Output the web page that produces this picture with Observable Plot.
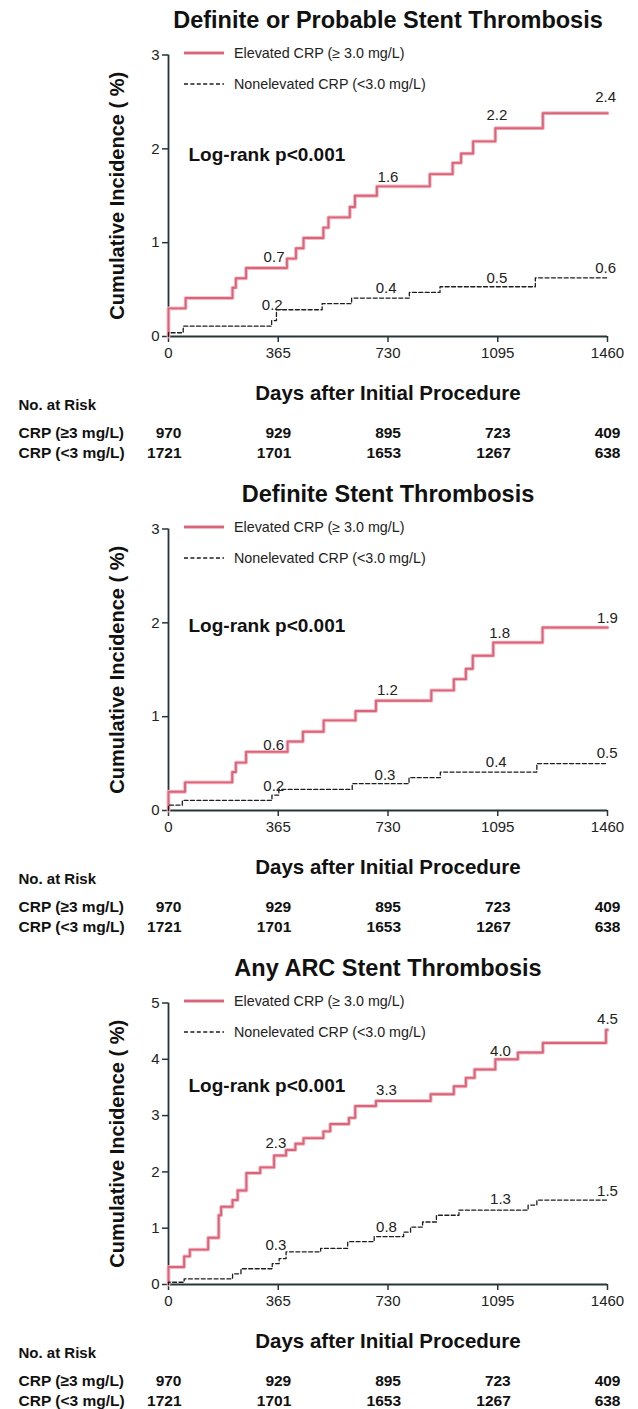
<!DOCTYPE html>
<html>
<head>
<meta charset="utf-8">
<script src="https://cdn.jsdelivr.net/npm/d3@7"></script>
<script src="https://cdn.jsdelivr.net/npm/@observablehq/plot@0.6"></script>
<style>
  html, body { margin: 0; padding: 0; background: #fff; overflow: hidden; }
  body { font-family: "Liberation Sans", Arial, sans-serif; width: 638px; height: 1409px; }
  .panel { position: relative; width: 638px; height: 474px; }
  .title { position: absolute; left: 0; top: 5px; width: 776px; text-align: center;
           font-weight: bold; font-size: 23.5px; color: #111; line-height: 30px; }
  .main { position: absolute; left: 0; top: 40px; }
  .table { position: absolute; left: 0; top: 395px; }
  .legend { position: absolute; left: 0; top: 0; }
</style>
</head>
<body>
<div id="chart"></div>
<script>
// ---------- data ----------
const titles = ["Definite or Probable Stent Thrombosis", "Definite Stent Thrombosis", "Any ARC Stent Thrombosis"];
const seriesNames = ["Elevated CRP (\u2265 3.0 mg/L)", "Nonelevated CRP (<3.0 mg/L)"];
const riskRows = ["CRP (\u22653 mg/L)", "CRP (<3 mg/L)"];
const xTicks = [0, 365, 730, 1095, 1460];
const yTicks1 = [0, 1, 2, 3];
const yTicks2 = [0, 1, 2, 3];
const yTicks3 = [0, 1, 2, 3, 4, 5];
const riskElevated = [970, 929, 895, 723, 409];
const riskNonelevated = [1721, 1701, 1653, 1267, 638];
const logRank = "Log-rank p<0.001";

// Panel 1: Definite or Probable
const p1ElevDays = [0, 0, 57, 213, 224, 258, 394, 424, 449, 515, 532, 603, 620, 693, 869, 945, 973, 1013, 1087, 1245, 1460];
const p1ElevVals = [0, 0.30, 0.41, 0.52, 0.62, 0.73, 0.83, 0.94, 1.05, 1.16, 1.27, 1.38, 1.50, 1.60, 1.73, 1.85, 1.95, 2.08, 2.22, 2.38, 2.38];
const p1NonDays = [0, 0, 49, 343, 359, 511, 609, 801, 903, 1220, 1460];
const p1NonVals = [0, 0.04, 0.11, 0.17, 0.285, 0.35, 0.41, 0.47, 0.53, 0.625, 0.625];
const p1LabText = ["0.7", "1.6", "2.2", "2.4", "0.2", "0.4", "0.5", "0.6"];
const p1LabDays = [351, 730, 1092, 1454, 345, 724, 1092, 1454];
const p1LabVals = [0.85, 1.70, 2.36, 2.55, 0.33, 0.51, 0.625, 0.73];

// Panel 2: Definite
const p2ElevDays = [0, 0, 55, 212, 224, 258, 396, 447, 516, 622, 690, 874, 949, 989, 1012, 1080, 1244, 1460];
const p2ElevVals = [0, 0.20, 0.30, 0.41, 0.51, 0.625, 0.735, 0.84, 0.96, 1.06, 1.17, 1.28, 1.40, 1.51, 1.65, 1.79, 1.95, 1.95];
const p2NonDays = [0, 0, 46, 344, 367, 611, 800, 904, 1225, 1460];
const p2NonVals = [0, 0.057, 0.107, 0.164, 0.225, 0.286, 0.35, 0.41, 0.50, 0.50];
const p2LabText = ["0.6", "1.2", "1.8", "1.9", "0.2", "0.3", "0.4", "0.5"];
const p2LabDays = [350, 728, 1101, 1460, 350, 720, 1090, 1459];
const p2LabVals = [0.70, 1.28, 1.886, 2.05, 0.26, 0.375, 0.51, 0.607];

// Panel 3: Any ARC
const p3ElevDays = [0, 0, 52, 71, 132, 167, 175, 213, 230, 259, 305, 351, 391, 422, 449, 515, 538, 600, 621, 690, 872, 949, 989, 1018, 1087, 1162, 1245, 1455, 1460];
const p3ElevVals = [0, 0.31, 0.50, 0.62, 0.83, 1.23, 1.38, 1.50, 1.67, 1.98, 2.08, 2.29, 2.39, 2.50, 2.60, 2.72, 2.85, 2.96, 3.17, 3.26, 3.38, 3.52, 3.67, 3.82, 4.00, 4.12, 4.29, 4.52, 4.52];
const p3NonDays = [0, 0, 52, 213, 241, 345, 368, 391, 506, 596, 684, 782, 805, 845, 891, 966, 1196, 1225, 1460];
const p3NonVals = [0, 0.04, 0.10, 0.19, 0.28, 0.37, 0.46, 0.58, 0.64, 0.76, 0.85, 0.93, 1.02, 1.11, 1.23, 1.32, 1.41, 1.50, 1.50];
const p3LabText = ["2.3", "3.3", "4.0", "4.5", "0.3", "0.8", "1.3", "1.5"];
const p3LabDays = [357, 725, 1104, 1460, 357, 725, 1104, 1460];
const p3LabVals = [2.51, 3.46, 4.15, 4.71, 0.70, 1.02, 1.51, 1.65];

// ---------- style ----------
const FONT = "Liberation Sans, Arial, Helvetica, sans-serif";
const AXIS = "#263636";
const RED = "#d9657b";
const GLOW = "#f4b7c2";
const BLACK = "#1e1e1e";

const panels = [
  {title: titles[0], yTicks: yTicks1, eD: p1ElevDays, eV: p1ElevVals, nD: p1NonDays, nV: p1NonVals, lT: p1LabText, lD: p1LabDays, lV: p1LabVals, lrDy: 100},
  {title: titles[1], yTicks: yTicks2, eD: p2ElevDays, eV: p2ElevVals, nD: p2NonDays, nV: p2NonVals, lT: p2LabText, lD: p2LabDays, lV: p2LabVals, lrDy: 97},
  {title: titles[2], yTicks: yTicks3, eD: p3ElevDays, eV: p3ElevVals, nD: p3NonDays, nV: p3NonVals, lT: p3LabText, lD: p3LabDays, lV: p3LabVals, lrDy: 83}
];

const root = document.getElementById("chart");
const ML = 168, MR = 31;

panels.forEach((p) => {
  const div = document.createElement("div");
  div.className = "panel";
  root.appendChild(div);

  const t = document.createElement("div");
  t.className = "title";
  t.textContent = p.title;
  div.appendChild(t);

  const elev = p.eD.map((d, i) => ({day: d, v: p.eV[i]}));
  const non = p.nD.map((d, i) => ({day: d, v: p.nV[i]}));
  const labs = p.lT.map((s, i) => ({text: s, day: p.lD[i], v: p.lV[i]}));
  const ymax = p.yTicks[p.yTicks.length - 1];

  const main = Plot.plot({
    width: 638, height: 360,
    marginTop: 14.5, marginBottom: 64, marginLeft: ML, marginRight: MR,
    style: {fontFamily: FONT, fontSize: "15px", color: "#222", background: "transparent", overflow: "visible"},
    x: {domain: [0, 1460]},
    y: {domain: [0, ymax]},
    marks: [
      Plot.axisX({ticks: xTicks, tickSize: 6, tickPadding: 5, label: null, tickFormat: d => String(d), stroke: AXIS, strokeWidth: 1.5, fontSize: 15, fill: "#222"}),
      Plot.axisY({ticks: p.yTicks, tickSize: 6, tickPadding: 3, label: null, tickFormat: d => String(d), stroke: AXIS, strokeWidth: 1.5, fontSize: 15, fill: "#222"}),
      Plot.ruleX([0], {stroke: AXIS, strokeWidth: 1.8}),
      Plot.ruleY([0], {stroke: AXIS, strokeWidth: 1.8}),
      Plot.line(elev, {x: "day", y: "v", curve: "step-after", stroke: GLOW, strokeWidth: 3.8}),
      Plot.line(elev, {x: "day", y: "v", curve: "step-after", stroke: RED, strokeWidth: 1.9}),
      Plot.line(non, {x: "day", y: "v", curve: "step-after", stroke: BLACK, strokeWidth: 1.3, strokeDasharray: "4,2.4"}),
      Plot.text(labs, {x: "day", y: "v", text: "text", fontSize: 15, fill: "#222"}),
      Plot.text([logRank], {text: d => d, frameAnchor: "top-left", dx: 20, dy: p.lrDy, textAnchor: "start", lineAnchor: "middle", fontWeight: "bold", fontSize: 19, fill: "#111"}),
      Plot.text(["Cumulative Incidence ( %)"], {text: d => d, frameAnchor: "left", rotate: -90, dx: -51, textAnchor: "middle", lineAnchor: "middle", fontWeight: "bold", fontSize: 20, fill: "#111"}),
      Plot.text(["Days after Initial Procedure"], {text: d => d, frameAnchor: "bottom", dy: 57, lineAnchor: "middle", fontWeight: "bold", fontSize: 20.5, fill: "#111", letterSpacing: "0.4px"})
    ]
  });
  main.classList.add("main");
  div.appendChild(main);

  // legend overlay inside the plot area
  const leg = d3.create("svg").attr("class", "legend").attr("width", 638).attr("height", 100);
  const items = [
    {name: seriesNames[0], y: 53, stroke: RED, dash: null, w: 1.9},
    {name: seriesNames[1], y: 84, stroke: BLACK, dash: "4,2.4", w: 1.3}
  ];
  items.forEach(it => {
    if (!it.dash) leg.append("line").attr("x1", 184).attr("x2", 224).attr("y1", it.y).attr("y2", it.y)
      .attr("stroke", GLOW).attr("stroke-width", 3.8);
    leg.append("line").attr("x1", 184).attr("x2", 224).attr("y1", it.y).attr("y2", it.y)
      .attr("stroke", it.stroke).attr("stroke-width", it.w).attr("stroke-dasharray", it.dash);
    leg.append("text").attr("x", 234).attr("y", it.y).attr("dy", "0.35em")
      .attr("font-family", FONT).attr("font-size", 14.3).attr("fill", "#222").text(it.name);
  });
  div.appendChild(leg.node());

  // risk table
  const risk = [];
  xTicks.forEach((d, i) => {
    risk.push({day: d, row: riskRows[0], n: riskElevated[i]});
    risk.push({day: d, row: riskRows[1], n: riskNonelevated[i]});
  });
  const table = Plot.plot({
    width: 638, height: 70,
    marginTop: 38, marginBottom: 12, marginLeft: ML, marginRight: MR,
    style: {fontFamily: FONT, background: "transparent", overflow: "visible"},
    x: {domain: [0, 1460], axis: null},
    y: {type: "point", domain: riskRows, padding: 0, axis: null},
    marks: [
      Plot.text(["No. at Risk"], {text: d => d, frameAnchor: "top-left", dx: -150, dy: -28, textAnchor: "start", lineAnchor: "middle", fontWeight: "bold", fontSize: 15, fill: "#111"}),
      Plot.text(riskRows, {y: d => d, text: d => d, frameAnchor: "left", dx: -150, textAnchor: "start", fontWeight: "bold", fontSize: 15.5, fill: "#111"}),
      Plot.text(risk, {x: "day", y: "row", text: d => String(d.n), textAnchor: "end", dx: 13, fontWeight: "bold", fontSize: 15.5, fill: "#111"})
    ]
  });
  table.classList.add("table");
  div.appendChild(table);
});
</script>
</body>
</html>
